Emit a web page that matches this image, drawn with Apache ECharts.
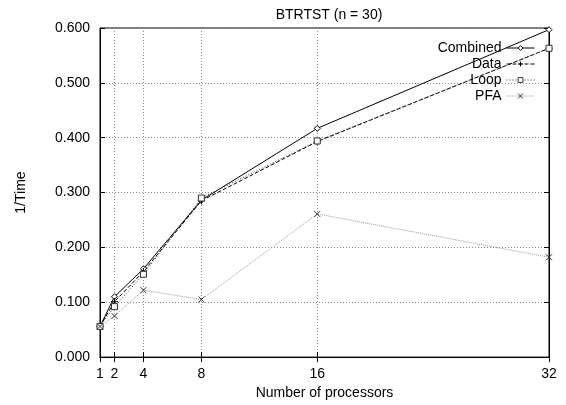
<!DOCTYPE html>
<html>
<head>
<meta charset="utf-8">
<script src="https://cdn.jsdelivr.net/npm/echarts@6/dist/echarts.min.js"></script>
<style>
html, body { margin: 0; padding: 0; background: #fff; }
#chart { width: 566px; height: 405px; }
</style>
</head>
<body>
<div id="chart"></div>
<script>
// number of processors (x) and 1/Time values per variant
const procs = [1, 2, 4, 8, 16, 32];
const combined = [0.056, 0.110, 0.161, 0.286, 0.417, 0.597];
const dataPar = [0.056, 0.101, 0.156, 0.285, 0.393, 0.563];
const loopPar = [0.056, 0.092, 0.151, 0.290, 0.394, 0.563];
const pfa = [0.056, 0.075, 0.122, 0.105, 0.261, 0.182];

const font = 'Liberation Sans';
const pts = ys => procs.map((x, i) => [x, ys[i]]);

const gridLine = { show: true, lineStyle: { color: '#888', type: [1, 2], width: 1 } };

const mkSeries = (name, ys, symbol, size, lineType, color, markColor) => ({
	name: name,
	type: 'line',
	data: pts(ys),
	symbol: symbol,
	symbolSize: size,
	showAllSymbol: true,
	lineStyle: { color: color, width: 1, type: lineType },
	itemStyle: { color: '#fff', borderColor: markColor || color, borderWidth: 1 },
	emphasis: { disabled: true },
	z: 3,
});

const chart = echarts.init(document.getElementById('chart'), null, { renderer: 'canvas' });
chart.setOption({
	animation: false,
	textStyle: { fontFamily: font },
	title: {
		text: 'BTRTST (n = 30)',
		left: 324,
		top: 3,
		textAlign: 'center',
		textStyle: { fontFamily: font, fontSize: 14, fontWeight: 'normal', color: '#000' },
	},
	grid: {
		left: 100,
		right: 17,
		top: 28,
		bottom: 44,
		show: true,
		borderColor: '#000',
		borderWidth: 1,
	},
	legend: {
		orient: 'vertical',
		right: 26,
		top: 36,
		align: 'right',
		itemWidth: 28,
		itemHeight: 6,
		itemGap: 2,
		lineStyle: { width: 1 },
		itemStyle: { borderWidth: 1 },
		textStyle: { fontFamily: font, fontSize: 14, color: '#000' },
		data: ['Combined', 'Data', 'Loop', 'PFA'],
	},
	xAxis: [{
		type: 'value',
		min: 1,
		max: 32,
		name: 'Number of processors',
		nameLocation: 'middle',
		nameGap: 25,
		nameTextStyle: { fontFamily: font, fontSize: 14, color: '#000' },
		axisLine: { lineStyle: { color: '#000' } },
		axisTick: { inside: true, length: 5, customValues: procs, lineStyle: { color: '#000' } },
		axisLabel: { customValues: procs, fontFamily: font, fontSize: 14, color: '#000', margin: 10 },
		splitLine: gridLine,
	}, {
		type: 'value',
		position: 'top',
		min: 1,
		max: 32,
		axisLine: { lineStyle: { color: '#000' } },
		axisTick: { inside: true, length: 5, customValues: procs, lineStyle: { color: '#000' } },
		axisLabel: { show: false },
		splitLine: { show: false },
	}],
	yAxis: [{
		type: 'value',
		min: 0,
		max: 0.6,
		interval: 0.1,
		name: '1/Time',
		nameLocation: 'middle',
		nameGap: 72,
		nameTextStyle: { fontFamily: font, fontSize: 14, color: '#000' },
		axisLine: { show: true, lineStyle: { color: '#000' } },
		axisTick: { show: true, inside: true, length: 5, lineStyle: { color: '#000' } },
		axisLabel: { fontFamily: font, fontSize: 14, color: '#000', margin: 10, formatter: v => v.toFixed(3) },
		splitLine: gridLine,
	}, {
		type: 'value',
		position: 'right',
		min: 0,
		max: 0.6,
		interval: 0.1,
		axisLine: { show: true, lineStyle: { color: '#000' } },
		axisTick: { show: true, inside: true, length: 5, lineStyle: { color: '#000' } },
		axisLabel: { show: false },
		splitLine: { show: false },
	}],
	series: [
		mkSeries('Combined', combined, 'diamond', 6, 'solid', '#000'),
		mkSeries('Data', dataPar, 'path://M5,0L5,10M0,5L10,5', 7, [4, 2], '#000'),
		mkSeries('Loop', loopPar, 'rect', 6, [1, 2], '#333'),
		mkSeries('PFA', pfa, 'path://M0,0L10,10M0,10L10,0', 6, [1, 1], '#999', '#333'),
	],
});
</script>
</body>
</html>
